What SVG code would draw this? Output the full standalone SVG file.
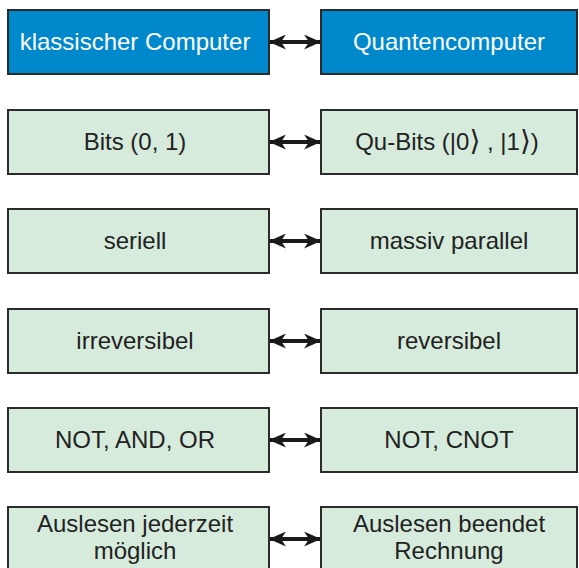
<svg xmlns="http://www.w3.org/2000/svg" width="579" height="568" viewBox="0 0 579 568">
<defs>
<style>
.box{stroke:#2b2b2b;stroke-width:2}
.blue{fill:#0088cc}
.green{fill:#d6ebdc}
.t{font-family:"Liberation Sans",Arial,sans-serif;font-size:24px;text-anchor:middle;fill:#222}
.tw{fill:#ffffff}
.br{font-family:"DejaVu Sans",sans-serif;font-size:28px}
.conn{stroke:#1a1a1a;stroke-width:4;fill:none;marker-start:url(#ah);marker-end:url(#ah)}
</style>
<marker id="ah" viewBox="0 0 17 15" refX="16" refY="7.5" markerWidth="17" markerHeight="15" markerUnits="userSpaceOnUse" orient="auto-start-reverse">
<path d="M0,0 L17,7.5 L0,15 L5,7.5 Z" fill="#1a1a1a"/>
</marker>
</defs>
<rect width="579" height="568" fill="#ffffff"/>
<g id="n1"><rect class="box blue" x="8" y="10" width="261" height="64"/><text class="t tw" x="135" y="50">klassischer Computer</text></g>
<g id="n2"><rect class="box blue" x="321" y="10" width="256" height="64"/><text class="t tw" x="449" y="50">Quantencomputer</text></g>
<g id="n3"><rect class="box green" x="8" y="110" width="261" height="64"/><text class="t" x="135" y="150">Bits (0, 1)</text></g>
<g id="n4"><rect class="box green" x="321" y="110" width="256" height="64"/><text class="t" x="447" y="150">Qu-Bits (|0<tspan class="br">⟩</tspan> , |1<tspan class="br">⟩</tspan>)</text></g>
<g id="n5"><rect class="box green" x="8" y="209" width="261" height="64"/><text class="t" x="135" y="249">seriell</text></g>
<g id="n6"><rect class="box green" x="321" y="209" width="256" height="64"/><text class="t" x="449" y="249">massiv parallel</text></g>
<g id="n7"><rect class="box green" x="8" y="309" width="261" height="64"/><text class="t" x="135" y="349">irreversibel</text></g>
<g id="n8"><rect class="box green" x="321" y="309" width="256" height="64"/><text class="t" x="449" y="349">reversibel</text></g>
<g id="n9"><rect class="box green" x="8" y="408" width="261" height="64"/><text class="t" x="135" y="448">NOT, AND, OR</text></g>
<g id="n10"><rect class="box green" x="321" y="408" width="256" height="64"/><text class="t" x="449" y="448">NOT, CNOT</text></g>
<g id="n11"><rect class="box green" x="8" y="507" width="261" height="70"/><text class="t" x="135" y="532">Auslesen jederzeit</text><text class="t" x="135" y="559">möglich</text></g>
<g id="n12"><rect class="box green" x="321" y="507" width="256" height="70"/><text class="t" x="449" y="532">Auslesen beendet</text><text class="t" x="449" y="559">Rechnung</text></g>
<g id="connectors">
<line class="conn" x1="270" y1="42" x2="320" y2="42"/>
<line class="conn" x1="270" y1="142" x2="320" y2="142"/>
<line class="conn" x1="270" y1="241" x2="320" y2="241"/>
<line class="conn" x1="270" y1="341" x2="320" y2="341"/>
<line class="conn" x1="270" y1="440" x2="320" y2="440"/>
<line class="conn" x1="270" y1="539" x2="320" y2="539"/>
</g>
</svg>
